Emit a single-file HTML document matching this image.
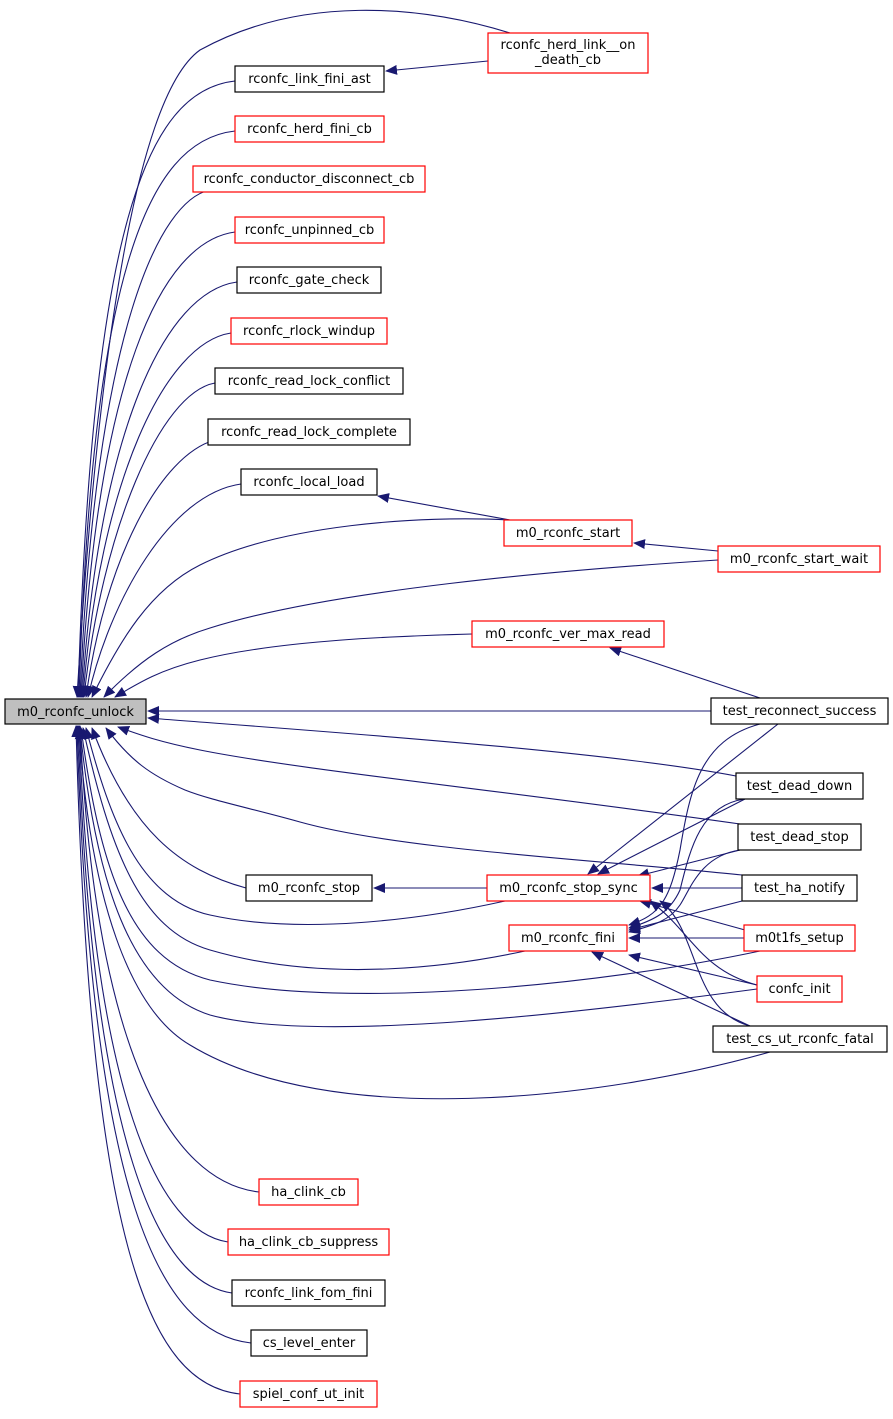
<!DOCTYPE html>
<html><head><meta charset="utf-8"><style>
body{margin:0;background:#fff;}
svg text{font-family:"DejaVu Sans","Liberation Sans",sans-serif;font-size:13px;fill:#000;}
</style></head><body>
<svg width="893" height="1414" viewBox="0 0 893 1414" xmlns="http://www.w3.org/2000/svg">
<defs>
<marker id="a" markerWidth="12" markerHeight="10" refX="11" refY="5" orient="auto" markerUnits="userSpaceOnUse">
<polygon points="0,0 12,5 0,10" fill="#191970"/></marker>
</defs>
<g fill="none" stroke="#191970" stroke-width="1.1" marker-end="url(#a)">
<path d="M510,33 C420,5 300,-5 200,50 C130,100 95,400 77,697"/>
<path d="M235,81 C145,91 92,231 78,697"/>
<path d="M235,131 C145,141 92,281 79,697"/>
<path d="M210,190 C160,200 95,330 80,697"/>
<path d="M235,232 C160,242 97,380 81,697"/>
<path d="M237,282 C165,292 99,430 82,697"/>
<path d="M231,333 C165,343 100,480 83,697"/>
<path d="M215,383 C160,393 102,530 84,697"/>
<path d="M215,440 C160,455 105,560 86,697"/>
<path d="M241,484 C170,494 110,600 88,697"/>
<path d="M510,520 C420,515 280,525 200,565 C150,590 120,640 92,697"/>
<path d="M718,560 C560,570 330,590 210,628 C170,640 140,660 104,697"/>
<path d="M472,634 C400,636 280,640 200,660 C160,670 140,682 115,697"/>
<path d="M711,711 L148,711"/>
<path d="M736,776 C600,750 300,730 148,718"/>
<path d="M740,824 C500,790 300,770 200,750 C160,742 140,735 118,727"/>
<path d="M742,875 C600,860 400,850 300,822 C250,808 210,800 185,790 C150,775 130,760 106,728"/>
<path d="M246,888 C180,870 130,830 92,728"/>
<path d="M505,901 C420,920 300,935 210,915 C140,900 110,820 86,728"/>
<path d="M525,951 C460,965 330,985 210,950 C140,930 110,850 83,728"/>
<path d="M760,951 C600,985 350,1010 210,980 C130,960 100,870 81,728"/>
<path d="M757,989 C600,1010 320,1045 210,1015 C130,990 95,880 80,728"/>
<path d="M770,1052 C600,1100 330,1130 190,1045 C130,1010 90,900 79,728"/>
<path d="M259,1192 C170,1182 95,1050 80,726"/>
<path d="M228,1242 C160,1232 93,1100 79,726"/>
<path d="M232,1293 C160,1283 92,1150 78,726"/>
<path d="M251,1343 C160,1333 91,1200 77,726"/>
<path d="M240,1394 C150,1384 90,1250 76,726"/>
<path d="M488,61 L386,71"/>
<path d="M510,520 L378,496"/>
<path d="M718,551 L634,543"/>
<path d="M760,698 L610,648"/>
<path d="M487,888 L374,888"/>
<path d="M742,888 L652,888"/>
<path d="M778,724 L588,874"/>
<path d="M745,799 L598,874"/>
<path d="M740,850 L638,876"/>
<path d="M745,930 L640,901"/>
<path d="M757,985 C700,970 690,930 650,901"/>
<path d="M750,1026 C690,1010 700,930 660,901"/>
<path d="M760,724 C700,740 690,790 680,850 C670,900 660,915 629,925"/>
<path d="M745,799 C700,805 690,850 680,890 C670,912 655,920 629,928"/>
<path d="M740,850 C700,856 690,890 680,905 C670,920 655,925 629,932"/>
<path d="M742,901 L629,930"/>
<path d="M744,938 L629,938"/>
<path d="M757,985 L629,955"/>
<path d="M750,1026 L592,952"/>
</g>
<g stroke-width="1.2">
<rect x="5" y="699" width="141" height="25" fill="#bfbfbf" stroke="#000"/>
<rect x="488" y="33" width="160" height="40" fill="#fff" stroke="#f00"/>
<rect x="235" y="66" width="149" height="26" fill="#fff" stroke="#000"/>
<rect x="235" y="116" width="149" height="26" fill="#fff" stroke="#f00"/>
<rect x="193" y="166" width="232" height="26" fill="#fff" stroke="#f00"/>
<rect x="235" y="217" width="149" height="26" fill="#fff" stroke="#f00"/>
<rect x="237" y="267" width="144" height="26" fill="#fff" stroke="#000"/>
<rect x="231" y="318" width="156" height="26" fill="#fff" stroke="#f00"/>
<rect x="215" y="368" width="188" height="26" fill="#fff" stroke="#000"/>
<rect x="208" y="419" width="202" height="26" fill="#fff" stroke="#000"/>
<rect x="241" y="469" width="136" height="26" fill="#fff" stroke="#000"/>
<rect x="504" y="520" width="128" height="26" fill="#fff" stroke="#f00"/>
<rect x="718" y="546" width="162" height="26" fill="#fff" stroke="#f00"/>
<rect x="472" y="621" width="192" height="26" fill="#fff" stroke="#f00"/>
<rect x="711" y="698" width="177" height="26" fill="#fff" stroke="#000"/>
<rect x="736" y="773" width="127" height="26" fill="#fff" stroke="#000"/>
<rect x="738" y="824" width="123" height="26" fill="#fff" stroke="#000"/>
<rect x="246" y="875" width="126" height="26" fill="#fff" stroke="#000"/>
<rect x="487" y="875" width="163" height="26" fill="#fff" stroke="#f00"/>
<rect x="742" y="875" width="115" height="26" fill="#fff" stroke="#000"/>
<rect x="509" y="925" width="118" height="26" fill="#fff" stroke="#f00"/>
<rect x="744" y="925" width="111" height="26" fill="#fff" stroke="#f00"/>
<rect x="757" y="976" width="85" height="26" fill="#fff" stroke="#f00"/>
<rect x="713" y="1026" width="174" height="26" fill="#fff" stroke="#000"/>
<rect x="259" y="1179" width="99" height="26" fill="#fff" stroke="#f00"/>
<rect x="228" y="1229" width="161" height="26" fill="#fff" stroke="#f00"/>
<rect x="232" y="1280" width="153" height="26" fill="#fff" stroke="#000"/>
<rect x="251" y="1330" width="116" height="26" fill="#fff" stroke="#000"/>
<rect x="240" y="1381" width="137" height="26" fill="#fff" stroke="#f00"/>
</g>
<g text-anchor="middle">
<text x="75.5" y="716">m0_rconfc_unlock</text>
<text x="568" y="49">rconfc_herd_link__on</text>
<text x="568" y="64">_death_cb</text>
<text x="309.5" y="83">rconfc_link_fini_ast</text>
<text x="309.5" y="133">rconfc_herd_fini_cb</text>
<text x="309" y="183">rconfc_conductor_disconnect_cb</text>
<text x="309.5" y="234">rconfc_unpinned_cb</text>
<text x="309" y="284">rconfc_gate_check</text>
<text x="309" y="335">rconfc_rlock_windup</text>
<text x="309" y="385">rconfc_read_lock_conflict</text>
<text x="309" y="436">rconfc_read_lock_complete</text>
<text x="309" y="486">rconfc_local_load</text>
<text x="568" y="537">m0_rconfc_start</text>
<text x="799" y="563">m0_rconfc_start_wait</text>
<text x="568" y="638">m0_rconfc_ver_max_read</text>
<text x="799.5" y="715">test_reconnect_success</text>
<text x="799.5" y="790">test_dead_down</text>
<text x="799.5" y="841">test_dead_stop</text>
<text x="309" y="892">m0_rconfc_stop</text>
<text x="568.5" y="892">m0_rconfc_stop_sync</text>
<text x="799.5" y="892">test_ha_notify</text>
<text x="568" y="942">m0_rconfc_fini</text>
<text x="799.5" y="942">m0t1fs_setup</text>
<text x="799.5" y="993">confc_init</text>
<text x="800" y="1043">test_cs_ut_rconfc_fatal</text>
<text x="308.5" y="1196">ha_clink_cb</text>
<text x="308.5" y="1246">ha_clink_cb_suppress</text>
<text x="308.5" y="1297">rconfc_link_fom_fini</text>
<text x="309" y="1347">cs_level_enter</text>
<text x="308.5" y="1398">spiel_conf_ut_init</text>
</g>
</svg>
</body></html>
